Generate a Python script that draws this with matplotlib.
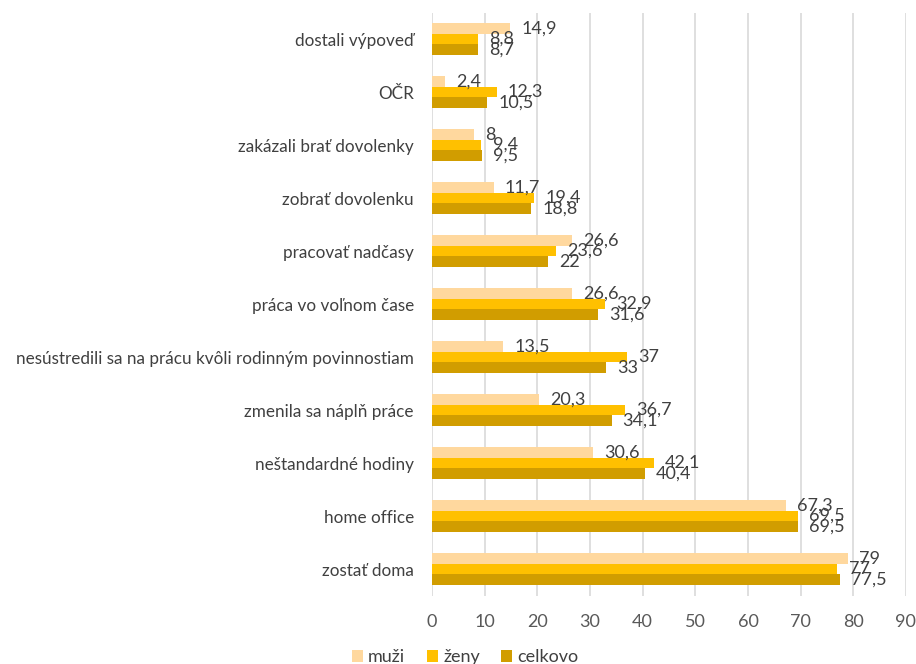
import matplotlib.pyplot as plt
import numpy as np

categories = ["dostali výpoveď", "OČR", "zakázali brať dovolenky", "zobrať dovolenku",
              "pracovať nadčasy", "práca vo voľnom čase",
              "nesústredili sa na prácu kvôli rodinným povinnostiam",
              "zmenila sa náplň práce", "neštandardné hodiny", "home office", "zostať doma"]
muzi = [14.9, 2.4, 8, 11.7, 26.6, 26.6, 13.5, 20.3, 30.6, 67.3, 79]
zeny = [8.8, 12.3, 9.4, 19.4, 23.6, 32.9, 37, 36.7, 42.1, 69.5, 77]
celkovo = [8.7, 10.5, 9.5, 18.8, 22, 31.6, 33, 34.1, 40.4, 69.5, 77.5]
series = [("muži", muzi, "#FFD89E"), ("ženy", zeny, "#FFC000"), ("celkovo", celkovo, "#D19D00")]

plt.rcParams["font.family"] = ["Lato", "DejaVu Sans"]

fig = plt.figure(figsize=(9.16, 6.64), dpi=100)
ax = fig.add_axes([0.4716, 0.103, 0.5174, 0.878])

y = np.arange(len(categories))
h = 0.2
for i, (name, vals, color) in enumerate(series):
    pos = y + (i - 1) * h
    ax.barh(pos, vals, height=h, color=color, label=name, zorder=2)
    for p, v in zip(pos, vals):
        txt = f"{v:g}".replace(".", ",")
        ax.annotate(txt, (v, p), xytext=(8, 0), textcoords="offset points",
                    ha="left", va="center", fontsize=13, color="#404040", zorder=3)

ax.set_xlim(0, 90)
ax.set_xticks(range(0, 91, 10))
ax.set_ylim(len(categories) - 0.5, -0.5)
ax.set_yticks(y)
ax.set_yticklabels(categories)
ax.tick_params(axis="y", length=0, pad=13, labelsize=12.3, labelcolor="#404040")
ax.tick_params(axis="x", length=0, pad=13, labelsize=13, labelcolor="#595959")
ax.grid(axis="x", color="#D9D9D9", linewidth=1.2, zorder=0)
for s in ax.spines.values():
    s.set_visible(False)

fig.legend(loc="center", bbox_to_anchor=(0.508, 0.01), ncol=3, frameon=False,
           fontsize=13, handlelength=0.6, handleheight=0.6, handletextpad=0.3,
           columnspacing=1.2, labelcolor="#404040")

fig.savefig("out.png", dpi=100)
